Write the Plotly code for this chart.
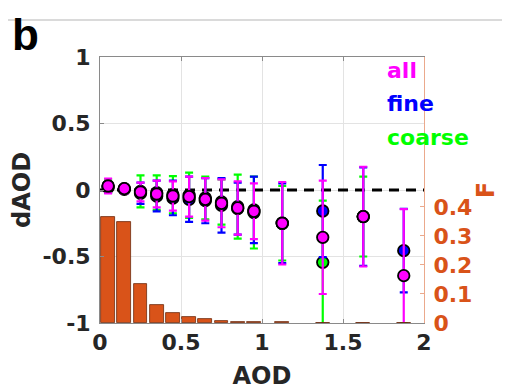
import plotly.graph_objects as go

# ---- data ----
aod = [0.05, 0.15, 0.25, 0.35, 0.45, 0.55, 0.65, 0.75, 0.85, 0.95, 1.125, 1.375, 1.625, 1.875]

d_all = [0.03, 0.01, -0.015, -0.03, -0.045, -0.05, -0.07, -0.10, -0.135, -0.16, -0.25, -0.356, -0.20, -0.644]
e_all = [0.055, 0.035, 0.07, 0.10, 0.11, 0.15, 0.16, 0.18, 0.20, 0.21, 0.31, 0.426, 0.375, 0.50]

d_fine = [0.02, 0.005, -0.025, -0.045, -0.06, -0.07, -0.08, -0.115, -0.14, -0.15, -0.25, -0.158, -0.20, -0.456]
e_fine = [0.04, 0.03, 0.08, 0.115, 0.13, 0.17, 0.17, 0.205, 0.195, 0.25, 0.30, 0.346, 0.37, 0.314]

d_coarse = [0.03, 0.01, -0.01, -0.02, -0.035, -0.04, -0.06, -0.09, -0.125, -0.17, -0.25, -0.544, -0.20, -1.30]
e_coarse = [0.05, 0.03, 0.12, 0.13, 0.14, 0.17, 0.16, 0.17, 0.24, 0.27, 0.28, 0.464, 0.30, 0.30]

freq = [0.367, 0.348, 0.134, 0.062, 0.036, 0.022, 0.014, 0.008, 0.003, 0.002, 0.004, 0.001, 0.0005, 0.0]

x_ticks = [0, 0.5, 1, 1.5, 2]
x_labels = ["0", "0.5", "1", "1.5", "2"]
y_ticks = [-1, -0.5, 0, 0.5, 1]
y_labels = ["-1", "-0.5", "0", "0.5", "1"]
f_ticks = [0, 0.1, 0.2, 0.3, 0.4]
f_labels = ["0", "0.1", "0.2", "0.3", "0.4"]

series_names = ["coarse", "fine", "all"]
series_colors = {"all": "#FF00FF", "fine": "#0000FF", "coarse": "#00FF00"}
series_data = {"all": (d_all, e_all), "fine": (d_fine, e_fine), "coarse": (d_coarse, e_coarse)}

ORANGE = "#D95319"
TXT = "#262626"
FONT = "DejaVu Sans"

# page has an 8px body margin: plot area should land at page x 100..424, y 57..323
PW, PH = 324, 266

fig = go.Figure()

for name in series_names:
    vals, errs = series_data[name]
    fig.add_trace(go.Scatter(
        x=aod, y=vals, mode="markers", name=name, cliponaxis=True,
        error_y=dict(type="data", array=errs, visible=True, color=series_colors[name],
                     thickness=2.2, width=4),
        marker=dict(color=series_colors[name], size=11.5, line=dict(color="black", width=1.8)),
        xaxis="x", yaxis="y", showlegend=False,
    ))

fig.add_trace(go.Bar(
    x=aod, y=freq, width=0.085, yaxis="y2", xaxis="x",
    marker=dict(color=ORANGE, line=dict(color="#6b2a0d", width=0.8)),
    showlegend=False,
))

fig.update_layout(
    width=502, height=384,
    margin=dict(l=92, r=86, t=49, b=69, autoexpand=False),
    paper_bgcolor="white", plot_bgcolor="white",
    font=dict(family=FONT, color=TXT),
    xaxis=dict(range=[0, 2], tickvals=x_ticks, ticktext=x_labels,
               showgrid=True, gridcolor="#e3e3e3", gridwidth=1,
               zeroline=False, showline=True, linecolor="#8a8a8a", linewidth=1,
               mirror="ticks", ticks="inside", ticklen=4, tickcolor="#8a8a8a",
               tickfont=dict(family=FONT, size=22, color=TXT, weight="bold"),
               title=dict(text="AOD", font=dict(family=FONT, size=24, color=TXT, weight="bold"),
                          standoff=12)),
    yaxis=dict(range=[-1, 1], tickvals=y_ticks, ticktext=y_labels,
               showgrid=True, gridcolor="#e3e3e3", gridwidth=1,
               zeroline=False, showline=True, linecolor="#8a8a8a", linewidth=1,
               ticks="inside", ticklen=4, tickcolor="#8a8a8a",
               tickfont=dict(family=FONT, size=22, color=TXT, weight="bold"),
               ticklabelstandoff=4,
               title=dict(text="dAOD", font=dict(family=FONT, size=24, color=TXT, weight="bold"),
                          standoff=10)),
    yaxis2=dict(range=[0, 0.917], overlaying="y", side="right", anchor="x",
                tickvals=f_ticks, ticktext=f_labels, showgrid=False, zeroline=False,
                showline=True, linecolor="#EBA98C", linewidth=1,
                ticks="inside", ticklen=4, tickcolor="#EBA98C",
                tickfont=dict(family=FONT, size=22, color=ORANGE, weight="bold"),
                ticklabelstandoff=4,
                title=dict(text="F", font=dict(family=FONT, size=24, color=ORANGE, weight="bold"),
                           standoff=4)),
    bargap=0,
)

# dashed zero reference line (above gridlines, below markers)
fig.add_shape(type="line", xref="x", yref="y", x0=0, x1=2, y0=0, y1=0,
              line=dict(color="black", width=3, dash="10px,7px"), layer="between")

# separator line at top of figure
fig.add_shape(type="line", xref="paper", yref="paper", x0=-100 / PW, x1=410 / PW,
              y0=(323 - 20) / PH, y1=(323 - 20) / PH,
              line=dict(color="#b5b5b5", width=1))

# panel label
fig.add_annotation(text="b", xref="paper", yref="paper", x=-75 / PW, y=(323 - 8) / PH,
                   xanchor="center", yanchor="top", showarrow=False,
                   font=dict(family="Liberation Sans", size=44, color="black", weight="bold"))

# legend-like labels
legend_items = [("all", "#FF00FF"), ("fine", "#0000FF"), ("coarse", "#00FF00")]
legend_y = [70, 103, 137]
for (txt, col), ypx in zip(legend_items, legend_y):
    fig.add_annotation(text=txt, xref="paper", yref="paper", x=(385 - 100) / PW,
                       y=(323 - ypx) / PH, xanchor="left", yanchor="middle",
                       showarrow=False,
                       font=dict(family=FONT, size=22, color=col, weight="bold"))

fig.write_html("out.html")
